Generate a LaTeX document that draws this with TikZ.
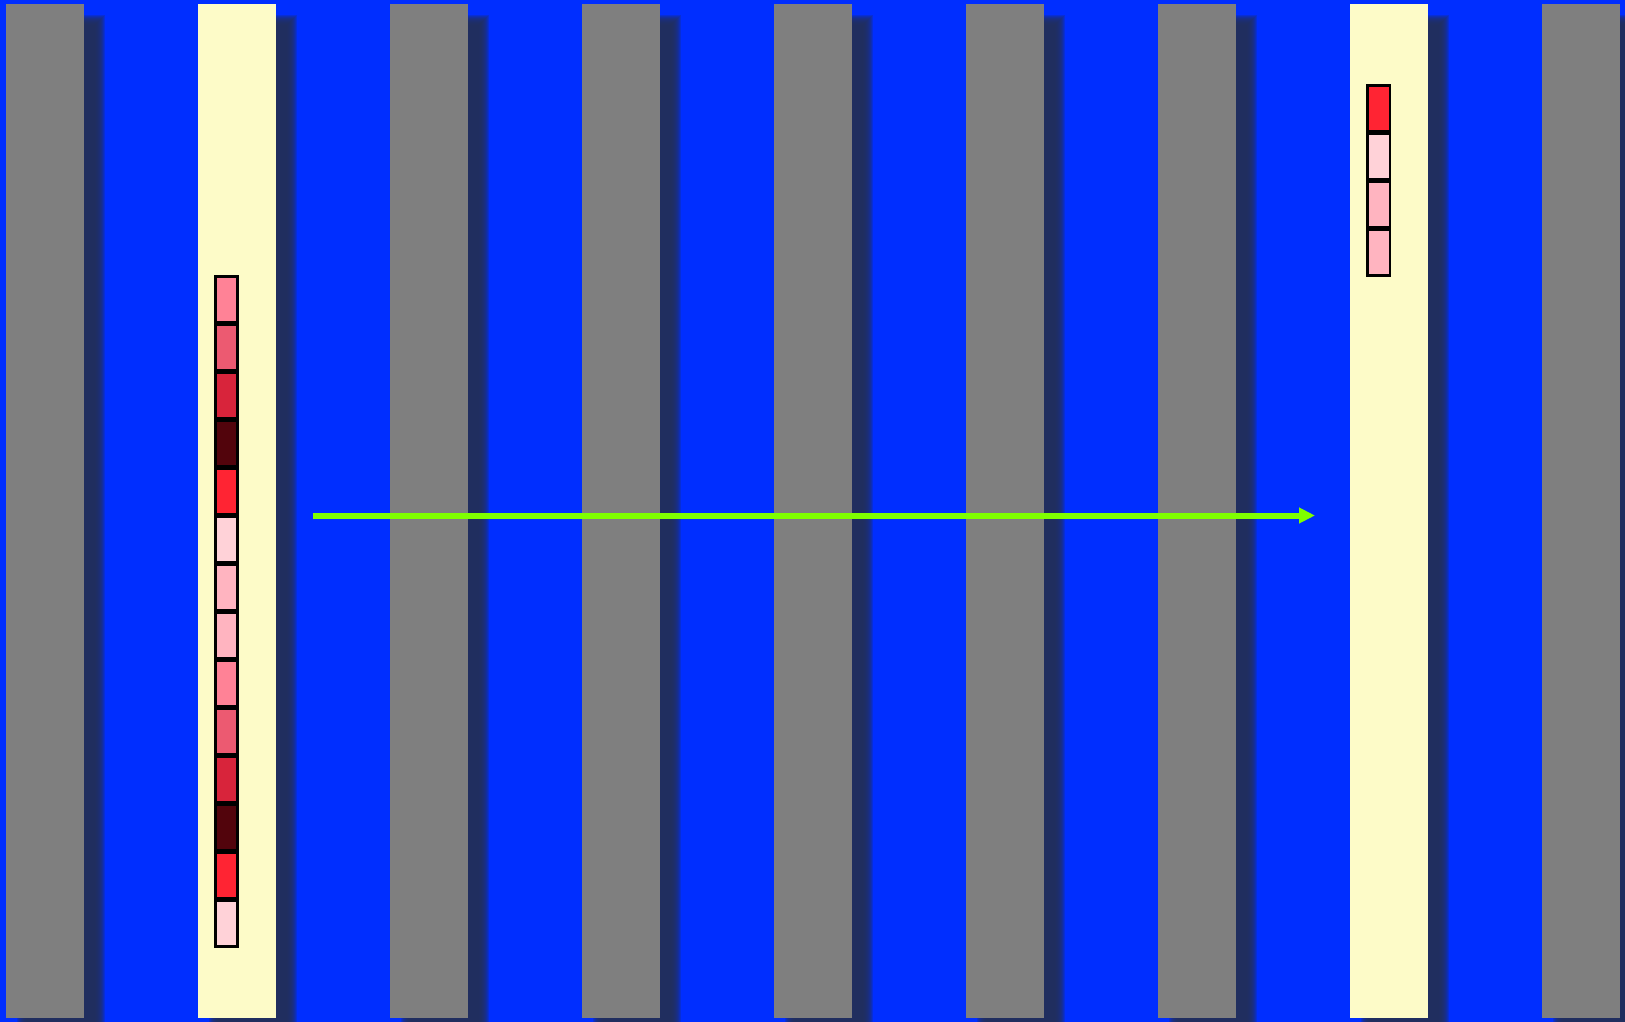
\documentclass[tikz,border=0pt]{standalone}
\usetikzlibrary{arrows.meta, positioning}

\definecolor{bgblue}{RGB}{0,46,255}
\definecolor{lanegray}{RGB}{127,127,127}
\definecolor{laneyellow}{RGB}{253,251,200}
\definecolor{lanedrop}{RGB}{35,48,90}
\definecolor{arrowgreen}{RGB}{127,255,0}
\definecolor{heatA}{RGB}{255,130,150}
\definecolor{heatB}{RGB}{236,90,113}
\definecolor{heatC}{RGB}{216,36,59}
\definecolor{heatD}{RGB}{82,4,12}
\definecolor{heatE}{RGB}{255,36,51}
\definecolor{heatF}{RGB}{255,210,216}
\definecolor{heatG}{RGB}{255,180,192}

\begin{document}
\begin{tikzpicture}[
    x=1pt, y=-1pt,
    lane/.style={rectangle, draw=none, minimum width=78pt, minimum height=1014pt, inner sep=0pt, outer sep=0pt, anchor=north west},
    cell/.style={rectangle, draw=black, line width=2.6pt, minimum width=22.5pt, minimum height=46pt, inner sep=0pt, outer sep=0pt},
    arrow/.style={-{Triangle[length=16pt, width=15pt]}, line width=6pt, arrowgreen}
]
% Background
\clip (0,0) rectangle (1625,1022);
\fill[bgblue] (0,0) rectangle (1625,1022);

% Lanes with soft drop shadows
\foreach \i/\col in {0/lanegray, 1/laneyellow, 2/lanegray, 3/lanegray, 4/lanegray, 5/lanegray, 6/lanegray, 7/laneyellow, 8/lanegray} {
    \pgfmathsetmacro{\px}{6+192*\i}
    \foreach \d in {-5,...,5}
        \fill[lanedrop, opacity=0.25] ({\px+16+\d}, {20+\d}) rectangle ({\px+94-\d}, {1034-\d});
    \node[lane, fill=\col] (lane\i) at (\px,4) {};
}

% Left stack
\foreach \c [count=\k from 0] in {heatA, heatB, heatC, heatD, heatE, heatF, heatG, heatG, heatA, heatB, heatC, heatD, heatE, heatF}
    \node[cell, fill=\c] (lcell\k) at (226.5, {299.35+48*\k}) {};

% Right stack
\foreach \c [count=\k from 0] in {heatE, heatF, heatG, heatG}
    \node[cell, fill=\c] (rcell\k) at (1378.7, {108.35+48*\k}) {};

% Arrow
\coordinate (tail) at (313,515.5);
\coordinate (head) at (1315,515.5);
\draw[arrow] (tail) -- (head);
\end{tikzpicture}
\end{document}
